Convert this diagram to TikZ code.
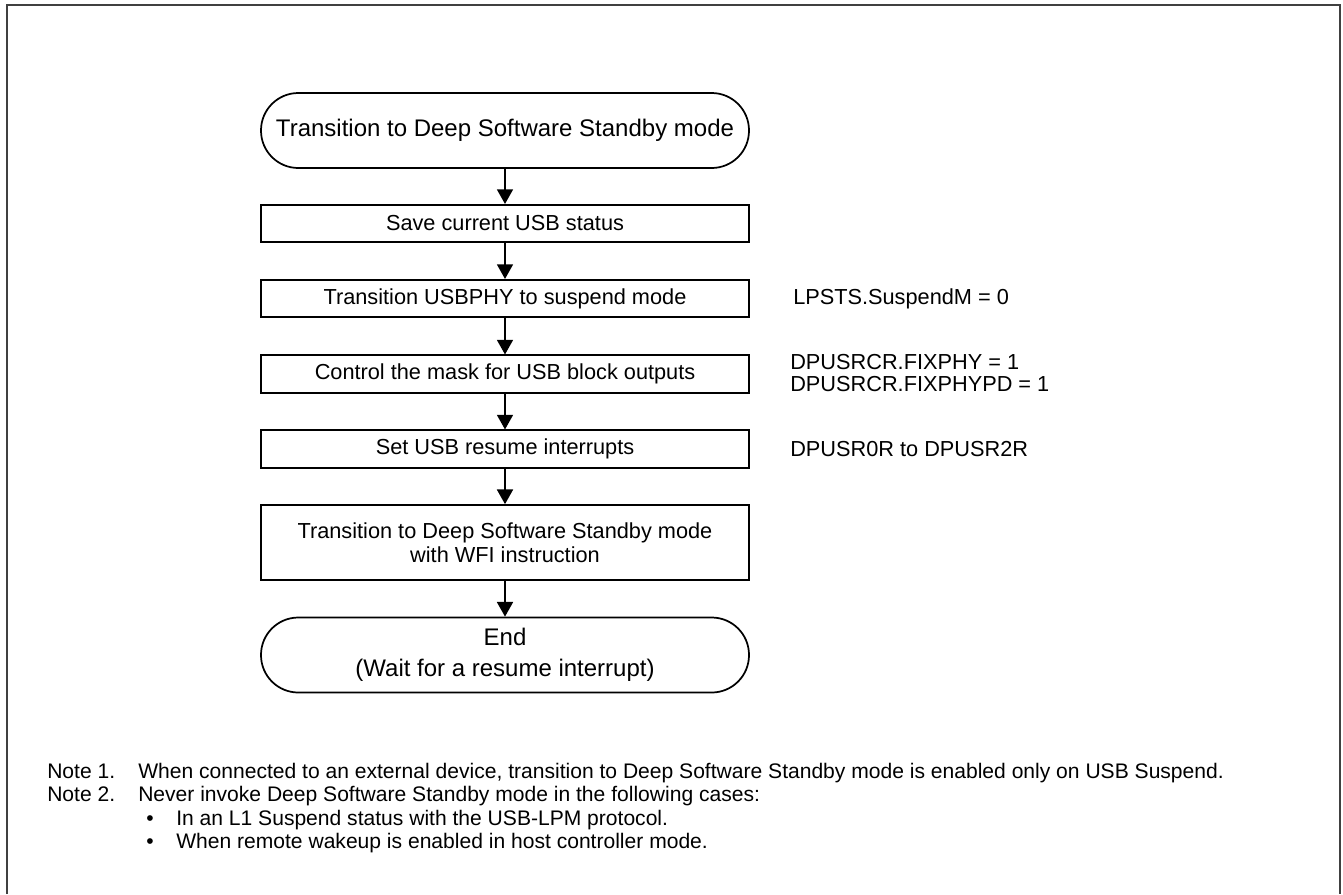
\documentclass[tikz,border=0pt]{standalone}
\usepackage{fontspec}
\setmainfont{Liberation Sans}
\usetikzlibrary{arrows.meta}
\definecolor{framegray}{RGB}{64,64,64}
\begin{document}
\begin{tikzpicture}[x=0.75pt,y=-0.75pt,
 proc/.style={draw, line width=1.3pt, minimum width=366pt, minimum height=28pt, inner sep=0pt, font=\fontsize{16.3}{18}\selectfont, align=center},
 proctall/.style={proc, minimum height=56.25pt},
 term/.style={draw, line width=1.3pt, rounded corners=28pt, minimum width=366pt, minimum height=56.25pt, inner sep=0pt, font=\fontsize{18}{23.5}\selectfont, align=center},
 flow/.style={line width=1.3pt, -{Triangle[width=12pt,length=11pt]}},
 lbl/.style={anchor=west, inner sep=0pt, font=\fontsize{16.3}{16.5}\selectfont, align=left},
 notetxt/.style={anchor=base west, inner sep=0pt, font=\fontsize{15.8}{17}\selectfont}]
\useasboundingbox (0,0) rectangle (1343,894);
\draw[line width=1.5pt, framegray] (6.5,894) -- (6.5,5) -- (1339.5,5) -- (1339.5,894);

\node[term] (start) at (505,130.5) {Transition to Deep Software Standby mode};
\node[proc] (s1) at (505,223.5) {Save current USB status};
\node[proc] (s2) at (505,298.5) {Transition USBPHY to suspend mode};
\node[proc] (s3) at (505,374) {Control the mask for USB block outputs};
\node[proc] (s4) at (505,449) {Set USB resume interrupts};
\node[proctall] (s5) at (505,542.5) {Transition to Deep Software Standby mode\\with WFI instruction};
\node[term] (fin) at (505,655) {End\\(Wait for a resume interrupt)};

\draw[flow] (start) -- (s1);
\draw[flow] (s1) -- (s2);
\draw[flow] (s2) -- (s3);
\draw[flow] (s3) -- (s4);
\draw[flow] (s4) -- (s5);
\draw[flow] (s5) -- (fin);

\node[lbl] (l2) at (793,298.5) {LPSTS.SuspendM = 0};
\node[lbl] (l3) at (790,373) {DPUSRCR.FIXPHY = 1\\DPUSRCR.FIXPHYPD = 1};
\node[lbl] (l4) at (790,449) {DPUSR0R to DPUSR2R};

\node[notetxt] (n1l) at (47,778) {Note 1.};
\node[notetxt] (n1t) at (138,778) {When connected to an external device, transition to Deep Software Standby mode is enabled only on USB Suspend.};
\node[notetxt] (n2l) at (47,801.5) {Note 2.};
\node[notetxt] (n2t) at (138,801.5) {Never invoke Deep Software Standby mode in the following cases:};
\node[notetxt] (b1) at (146,825) {•};
\node[notetxt] (b1t) at (176,825) {In an L1 Suspend status with the USB-LPM protocol.};
\node[notetxt] (b2) at (146,848) {•};
\node[notetxt] (b2t) at (176,848) {When remote wakeup is enabled in host controller mode.};
\end{tikzpicture}
\end{document}
